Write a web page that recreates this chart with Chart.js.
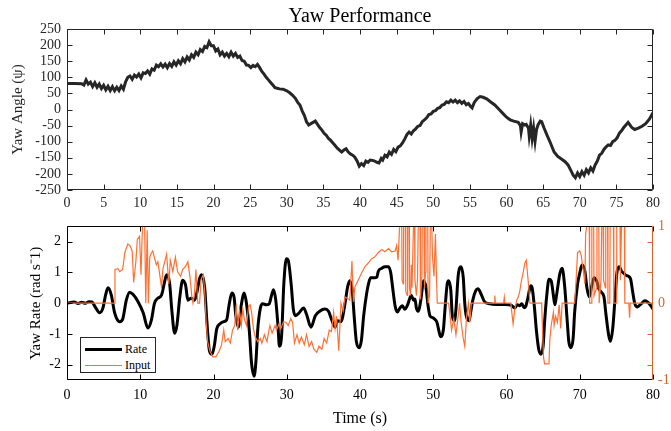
<!DOCTYPE html>
<html><head><meta charset="utf-8">
<script src="https://cdn.jsdelivr.net/npm/chart.js@4.4.1/dist/chart.umd.min.js"></script>
<style>
html,body{margin:0;padding:0;background:#fff;}
#wrap{position:relative;width:671px;height:431px;overflow:hidden;background:#fff;}
#wrap canvas{position:absolute;left:0;}
#c1{top:0;}
#c2{top:212px;}
#legend{position:absolute;left:80px;top:337px;width:74px;height:34px;border:1px solid #262626;background:#fff;font:12px "Liberation Serif","Times New Roman",serif;color:#000;z-index:2;}
#legend .sw{position:absolute;left:4px;width:37px;}
#legend .lab{position:absolute;left:44px;line-height:14px;}
</style>
</head><body>
<div id="wrap">
<canvas id="c1" width="671" height="212"></canvas>
<canvas id="c2" width="671" height="219"></canvas>
<div id="legend">
 <div class="sw" style="top:10px;height:3px;background:#000;"></div><div class="lab" style="top:4px;">Rate</div>
 <div class="sw" style="top:27px;height:1px;background:#ff7033;"></div><div class="lab" style="top:20px;">Input</div>
</div>
</div>
<script>
const chartTitle = 'Yaw Performance';
const angleAxisTitle = 'Yaw Angle (\u03c8)';
const rateAxisTitle = 'Yaw Rate (rad s\u207b1)';
const timeAxisTitle = 'Time (s)';

const angleTicks = [-250,-200,-150,-100,-50,0,50,100,150,200,250];
const rateTicks = [-2,-1,0,1,2];
const inputTicks = [-1,0,1];
const timeTicksTop = [0,5,10,15,20,25,30,35,40,45,50,55,60,65,70,75,80];
const timeTicksBottom = [0,10,20,30,40,50,60,70,80];

const yawTime = [
0,1,2,2.3,2.6,2.9,3.2,3.5,3.8,4.1,
4.4,4.7,5.0,5.3,5.6,5.9,6.2,6.5,6.8,7.1,
7.4,7.7,8.0,8.3,8.6,8.9,9.2,9.5,9.8,10.1,
10.4,10.7,11.0,11.3,11.6,11.9,12.2,12.5,12.8,13.1,
13.4,13.7,14.0,14.3,14.6,14.9,15.2,15.5,15.8,16.1,
16.4,16.7,17.0,17.3,17.6,17.9,18.2,18.5,18.8,19.1,
19.4,19.7,20.0,20.3,20.6,20.9,21.2,21.5,21.8,22.1,
22.4,22.7,23.0,23.3,23.6,23.9,24.2,24.5,24.8,25.1,
25.4,25.7,26.0,26.3,26.6,26.9,27.2,27.5,27.8,28.1,
28.4,28.7,29.0,29.5,30.0,30.4,30.8,31.2,31.5,31.8,
32.1,32.4,32.7,33.0,33.3,33.6,33.9,34.2,34.5,34.8,
35.1,35.4,35.7,36.0,36.3,36.6,36.9,37.2,37.5,37.8,
38.1,38.4,38.7,39.0,39.3,39.6,39.9,40.2,40.5,40.8,
41.1,41.4,41.7,42.0,42.3,42.6,42.9,43.1,43.4,43.7,
44.0,44.3,44.6,44.9,45.2,45.5,45.8,46.1,46.4,46.7,
47.0,47.3,47.6,47.9,48.2,48.5,48.8,49.1,49.4,49.7,
50.0,50.3,50.6,50.9,51.2,51.5,51.8,52.1,52.4,52.7,
53.0,53.3,53.6,53.9,54.2,54.5,54.8,55.1,55.3,55.6,
56.0,56.4,56.8,57.3,57.8,58.4,59.0,59.5,60.0,60.5,
61.0,61.6,61.9,62.0,62.2,62.5,62.7,63.0,63.1,63.3,
63.5,63.7,63.9,64.1,64.3,64.6,64.8,65.1,65.5,66.0,
66.5,67.0,67.5,68.0,68.4,68.8,69.1,69.4,69.7,70.0,
70.3,70.6,70.9,71.2,71.5,71.8,72.1,72.4,72.7,73.0,
73.3,73.6,73.9,74.2,74.5,74.8,75.1,75.4,75.7,76.0,
76.3,76.6,76.8,77.1,77.5,78.0,78.5,79.0,79.5,80.0];
const yawAngle = [
81,81,80,76,92,79,85,71,83,69,
79,65,75,61,72,59,71,58,69,59,
73,63,86,100,104,94,107,101,110,98,
114,112,120,110,126,122,138,133,142,132,
141,130,143,134,148,138,151,142,158,148,
163,154,170,162,178,170,186,180,196,192,
210,198,198,182,188,170,178,166,174,164,
178,166,174,162,166,152,150,138,137,130,
137,133,140,130,118,110,100,92,84,76,
68,66,64,63,58,52,44,34,22,14,
-4,-18,-38,-48,-44,-40,-36,-46,-56,-64,
-74,-80,-90,-96,-104,-112,-120,-126,-132,-126,
-122,-132,-138,-142,-148,-160,-176,-168,-174,-160,
-164,-157,-158,-160,-164,-166,-152,-157,-142,-147,
-132,-139,-124,-131,-117,-113,-104,-92,-78,-70,
-76,-66,-60,-52,-50,-38,-32,-26,-16,-14,
-6,-4,4,6,14,16,24,21,29,23,
29,21,27,19,25,15,19,9,5,22,
34,40,38,33,24,14,0,-12,-24,-32,
-36,-40,-50,-70,-44,-48,-46,-58,-82,-48,
-90,-58,-98,-62,-48,-36,-38,-56,-78,-104,
-132,-146,-154,-162,-172,-190,-204,-212,-197,-208,
-193,-204,-187,-197,-181,-191,-172,-160,-142,-136,
-124,-116,-110,-112,-100,-96,-88,-74,-66,-56,
-48,-40,-46,-56,-62,-58,-52,-44,-30,-10];

const rateTime = [
0,0.5,1,1.5,2,2.5,3,3.4,3.8,4.45,
4.9,5.3,5.6,6.05,6.5,7.2,7.6,8.1,8.55,9,
9.7,10.4,11.05,11.5,11.95,12.4,12.9,13.3,13.6,14,
14.3,14.7,15,15.4,15.8,16.2,16.5,16.95,17.4,17.7,
18.1,18.4,18.8,19.1,19.45,19.8,20.1,20.45,20.9,21.4,
21.8,22.1,22.5,22.8,23.05,23.4,23.8,24.2,24.5,24.9,
25.2,25.55,25.8,26.05,26.4,26.7,27.2,27.6,27.9,28.2,
28.5,28.8,29,29.3,29.6,29.95,30.2,30.6,30.9,31.2,
31.7,32.3,32.7,33.3,33.9,34.5,35.2,35.7,36.1,36.6,
36.95,37.4,37.95,38.3,38.6,38.95,39.2,39.5,39.9,40.2,
40.5,40.9,41.2,41.45,42,42.3,42.5,43,43.4,43.9,
44.2,44.45,44.8,45.1,45.45,45.8,46.1,46.45,46.8,47,
47.3,47.5,47.7,47.95,48.3,48.55,48.7,49,49.3,49.55,
49.9,50.2,50.5,50.8,51,51.4,51.6,51.9,52.1,52.4,
52.6,52.9,53.1,53.4,53.8,54.1,54.3,54.5,54.9,55.1,
55.4,55.8,56.1,56.6,57,57.7,58.6,59.8,60.7,61.1,
61.5,61.8,62.1,62.4,62.6,62.95,63.3,63.5,63.8,64.1,
64.4,64.7,65,65.2,65.5,65.8,66.1,66.4,66.6,66.8,
67.3,67.6,67.95,68.3,68.5,68.8,69.1,69.3,69.7,70,
70.3,70.7,71,71.3,71.6,71.95,72.3,72.6,72.95,73.3,
73.6,73.95,74.2,74.5,74.8,75.1,75.4,75.7,76,76.3,
76.6,76.95,77.2,77.5,77.8,78.1,78.4,78.9,79.2,79.5,
80];
const rateValue = [
0,0.02,0.04,-0.01,0.03,0,0.05,0.04,-0.1,-0.31,
-0.16,0.3,0.5,0.26,-0.31,-0.6,-0.52,0.1,0.36,0.29,
0.05,-0.31,-0.81,-0.57,0,0.16,0.26,0.67,0.93,0.67,
-0.2,-0.98,-0.73,0.2,0.75,0.57,0.1,0.16,0.1,0.31,
0.8,0.93,0.5,-0.6,-1.55,-1.66,-1.4,-0.83,-0.67,-0.6,
-0.54,-0.1,0.33,0.21,-0.41,-0.78,-0.05,0.33,0,-0.93,
-1.97,-2.38,-1.87,-0.83,-0.16,-0.02,-0.05,-0.02,0.23,0.44,
0.1,-0.73,-1.4,-1.04,0.62,1.45,1.4,0.62,-0.2,-0.41,
-0.31,-0.16,-0.36,-0.78,-0.41,-0.26,-0.19,-0.26,-0.52,-0.78,
-0.57,-0.6,-0.02,0.52,0.73,0.4,-0.41,-1.24,-1.45,-1.19,
-0.41,0.31,0.67,0.83,0.83,0.85,1.04,1.14,1.19,1.19,
0.98,0.52,-0.1,-0.29,-0.16,-0.08,-0.2,-0.08,0.16,0.26,
0.1,0.14,-0.16,-0.26,0.1,0.57,0.73,0.52,-0.1,-0.41,
-0.47,-0.52,-0.62,-0.93,-1.09,-0.83,-0.2,0.62,0.73,0.41,
-0.41,-0.57,-0.2,0.88,1.19,0.83,0,-0.41,-0.57,-0.31,
0.1,0.41,0.47,0.26,0.05,-0.02,-0.04,-0.04,-0.07,-0.16,
-0.05,-0.08,-0.02,-0.15,-0.12,0.21,0.57,0.5,-0.1,-0.93,
-1.5,-1.66,-1.4,-0.62,0.26,0.78,0.73,0.26,-0.05,0.21,
0.98,1.14,0.52,-0.62,-1.24,-1.45,-1.14,-0.31,0.62,0.98,
1.24,1.04,0.47,0.21,0.52,0.83,0.73,0.47,0.36,0.21,
-0.41,-1.04,-1.24,-0.83,0.1,1.04,1.19,1.04,0.98,0.91,
0.88,0.78,0.41,0,-0.12,-0.08,-0.02,0.08,0.05,-0.02,
-0.19];

const inputTime = [
0,6.5,6.55,6.95,7.2,7.6,7.9,8.3,8.6,8.9,
9.1,9.4,9.6,9.9,10.1,10.3,10.6,10.75,10.95,11.1,
11.3,11.5,11.7,12.2,12.4,12.6,12.9,13.1,13.45,13.6,
13.9,14.1,14.45,14.8,15.1,15.5,15.8,16.2,16.5,16.8,
17.05,17.2,17.4,17.6,17.85,18.1,18.3,18.6,18.8,19,
19.2,19.5,19.9,20.3,20.8,21.1,21.4,21.6,22,22.3,
22.6,22.9,23.1,23.3,23.55,23.8,24,24.2,24.5,24.8,
25,25.2,25.45,25.7,26.05,26.4,26.6,26.95,27.3,27.5,
27.7,28,28.4,28.6,28.95,29.2,29.55,29.9,30.2,30.55,
30.8,31.05,31.4,31.7,32,32.4,32.7,33.05,33.4,33.7,
34.1,34.4,34.8,35.1,35.45,35.8,36.1,36.4,36.6,36.8,
37.1,37.4,37.7,37.95,38.3,38.6,38.9,39.1,39.3,39.5,
39.8,40.2,40.7,41.1,41.6,42,42.5,43,43.4,43.9,
44.3,44.8,45,45.2,45.4,45.7,45.75,45.9,45.95,46.2,
46.25,46.45,46.5,46.7,46.75,46.9,47,47.1,47.3,47.45,
47.5,47.7,47.85,47.95,48.2,48.25,48.45,48.5,48.75,48.8,
48.95,49,49.25,49.3,49.5,49.6,49.8,49.9,50.1,50.3,
50.45,50.55,52.1,52.3,52.5,52.8,53.1,53.4,53.6,53.8,
54.1,54.3,54.55,54.8,55,55.2,58.3,58.4,58.5,59.6,
59.7,59.8,60.6,60.7,60.9,61.1,61.4,61.6,61.8,62,
62.3,62.5,62.7,62.9,63.05,63.2,64.8,64.9,65.05,65.2,
65.8,65.9,66.1,66.4,66.5,66.7,66.95,67.2,67.4,67.6,
69.3,69.45,69.7,70,70.2,70.45,70.7,70.8,70.95,71.3,
71.35,71.6,71.65,71.9,71.95,72.3,72.35,72.6,72.65,72.9,
73,73.2,73.25,73.5,73.55,73.8,73.85,74.1,74.15,74.6,
74.65,75,75.05,75.5,75.55,75.7,76.1,76.15,76.7,76.8,
76.9,80];
const inputValue = [
0,0,0.44,0.45,0.41,0.44,0.66,0.77,0.75,0.68,
0.27,0.54,0.83,0.87,0.37,1,1,0,0.95,0,
0.6,0.65,0.68,0.5,0.54,0.41,0.21,0.45,0.58,0.64,
0.25,0.56,0.41,0.6,0.41,0.35,0.44,0.48,0.54,0.33,
0.08,0,0.12,0.44,0,0,0.31,0.37,0.15,-0.25,
-0.5,-0.62,-0.7,-0.7,-0.62,-0.54,-0.35,-0.5,-0.46,-0.52,
-0.35,-0.29,-0.02,-0.35,-0.1,-0.29,-0.08,-0.2,-0.29,-0.04,
-0.02,-0.12,-0.33,-0.44,-0.5,-0.46,-0.52,-0.41,-0.5,-0.39,
-0.29,-0.39,-0.29,-0.35,-0.27,-0.33,-0.24,-0.25,-0.29,-0.2,
-0.25,-0.52,-0.41,-0.52,-0.44,-0.54,-0.41,-0.56,-0.5,-0.6,
-0.64,-0.56,-0.6,-0.46,-0.52,-0.35,-0.37,-0.12,-0.33,-0.17,
-0.62,0,-0.1,0.08,0.06,0.04,0.55,0.02,0.21,0.25,
0.31,0.39,0.48,0.52,0.58,0.6,0.66,0.7,0.67,0.71,
0.67,0.68,0.75,0.56,1,1,0.3,0.25,1,1,
0.15,0.1,1,1,0.2,0.1,0.5,0.2,1,1,
0.3,0.1,0.3,1,1,0.05,0.35,1,1,0.2,
0.4,1,1,0,0.1,1,1,0.6,0.35,0.9,
0.3,0,0,-0.17,-0.35,-0.2,-0.41,-0.17,0,-0.25,
-0.46,-0.56,-0.17,0,-0.25,0,0,0.1,0,0,
0.08,0,0,-0.1,-0.27,-0.1,0.04,0.08,0.15,0.27,
0.41,0.52,0.56,0.35,0.2,0,0,-0.29,-0.7,-0.79,
-0.79,-0.5,-0.29,-0.12,-0.29,-0.17,-0.25,-0.02,-0.33,0,
0,0.21,0.66,0.68,0.62,0.45,0.25,0.9,1,1,
0,0,1,1,0.1,0.2,1,1,0,0.3,
1,1,0.3,0.2,1,1,0,0,1,1,
0,0,1,1,0.3,1,1,0,0,-0.19,
0,0];

const SERIF = '"Liberation Serif","Times New Roman",serif';
const ORANGE_LINE = '#ff7033';
const ORANGE_AXIS = '#d9622b';
const DARK = '#262626';

function pts(ts, vs){ return ts.map((t,i)=>({x:t,y:vs[i]})); }
function fixTicks(arr){ return function(scale){ scale.ticks = arr.map(v=>({value:v})); }; }

function framePlugin(opts){
  return {id:'frame', afterDraw(chart){
    const ctx=chart.ctx, a=chart.chartArea, xs=chart.scales.x, ys=chart.scales.y;
    const L=Math.round(a.left)+0.5, R=Math.round(a.right)-0.5, T=Math.round(a.top)+0.5, B=Math.round(a.bottom)-0.5;
    const tl=5;
    ctx.save();
    ctx.lineWidth=1;
    ctx.strokeStyle=opts.axisColor;
    ctx.beginPath();
    xs.ticks.forEach(t=>{const p=Math.round(xs.getPixelForValue(t.value))+0.5;
      ctx.moveTo(p,B); ctx.lineTo(p,B-tl); ctx.moveTo(p,T); ctx.lineTo(p,T+tl);});
    ys.ticks.forEach(t=>{const p=Math.round(ys.getPixelForValue(t.value))+0.5;
      ctx.moveTo(L,p); ctx.lineTo(L+tl,p);
      if(!opts.rightColor){ctx.moveTo(R,p); ctx.lineTo(R-tl,p);} });
    ctx.moveTo(L,T); ctx.lineTo(R,T);
    ctx.moveTo(L,T); ctx.lineTo(L,B); ctx.lineTo(R,B);
    if(!opts.rightColor){ctx.moveTo(R,T); ctx.lineTo(R,B);}
    ctx.stroke();
    if(opts.rightColor){
      ctx.strokeStyle=opts.rightColor;
      ctx.beginPath();
      ctx.moveTo(R,T); ctx.lineTo(R,B);
      ys.ticks.forEach(t=>{const p=Math.round(ys.getPixelForValue(t.value))+0.5;
        ctx.moveTo(R,p); ctx.lineTo(R-tl,p);});
      ctx.stroke();
    }
    if(opts.title){
      ctx.fillStyle='#000';
      ctx.font='20px '+SERIF;
      ctx.textAlign='center'; ctx.textBaseline='middle';
      ctx.fillText(opts.title,(a.left+a.right)/2,17);
    }
    ctx.restore();
  }};
}

Chart.defaults.font.family = SERIF;
Chart.defaults.color = '#000';

new Chart(document.getElementById('c1'), {
  type:'line',
  data:{datasets:[{data:pts(yawTime,yawAngle),borderColor:DARK,borderWidth:3,pointRadius:0,tension:0,fill:false}]},
  options:{
    responsive:false, animation:false, devicePixelRatio:1,
    layout:{padding:{top:29,right:18,bottom:0,left:0}},
    plugins:{legend:{display:false},tooltip:{enabled:false}},
    scales:{
      x:{type:'linear',min:0,max:80,afterBuildTicks:fixTicks(timeTicksTop),afterFit(s){s.height=22;},
         grid:{display:false,drawTicks:false},border:{display:false},
         ticks:{font:{size:14},color:DARK,padding:5,maxRotation:0,autoSkip:false,callback:v=>String(v)}},
      y:{type:'linear',min:-250,max:250,afterBuildTicks:fixTicks(angleTicks),afterFit(s){s.width=67;},
         grid:{display:false,drawTicks:false},border:{display:false},
         ticks:{font:{size:14},color:DARK,padding:6,autoSkip:false,callback:v=>String(v)},
         title:{display:true,text:angleAxisTitle,font:{size:15},color:DARK,padding:{top:9,bottom:9}}}
    }
  },
  plugins:[framePlugin({axisColor:DARK,title:chartTitle})]
});

new Chart(document.getElementById('c2'), {
  type:'line',
  data:{datasets:[
    {label:'Input',data:pts(inputTime,inputValue),yAxisID:'y1',borderColor:ORANGE_LINE,borderWidth:1.2,pointRadius:0,tension:0,fill:false,order:0},
    {label:'Rate',data:pts(rateTime,rateValue),yAxisID:'y',borderColor:'#000',borderWidth:3,pointRadius:0,cubicInterpolationMode:'monotone',fill:false,order:1}
  ]},
  options:{
    responsive:false, animation:false, devicePixelRatio:1,
    layout:{padding:{top:10,right:0,bottom:0,left:0}},
    plugins:{legend:{display:false},tooltip:{enabled:false}},
    scales:{
      x:{type:'linear',min:0,max:80,afterBuildTicks:fixTicks(timeTicksBottom),afterFit(s){s.height=51;},
         grid:{display:false,drawTicks:false},border:{display:false},
         ticks:{font:{size:14},color:'#000',padding:7,maxRotation:0,autoSkip:false,callback:v=>String(v)},
         title:{display:true,text:timeAxisTitle,font:{size:16},color:'#000',padding:{top:3,bottom:3}}},
      y:{type:'linear',position:'left',min:-2.5,max:2.5,afterBuildTicks:fixTicks(rateTicks),afterFit(s){s.width=67;},
         grid:{display:false,drawTicks:false},border:{display:false},
         ticks:{font:{size:14},color:'#000',padding:6,autoSkip:false,callback:v=>String(v)},
         title:{display:true,text:rateAxisTitle,font:{size:15},color:'#000',padding:{top:27,bottom:27}}},
      y1:{type:'linear',position:'right',min:-1,max:1,afterBuildTicks:fixTicks(inputTicks),afterFit(s){s.width=18;},
         grid:{display:false,drawTicks:false},border:{display:false},
         ticks:{font:{size:14},color:ORANGE_AXIS,padding:5,autoSkip:false,callback:v=>String(v)}}
    }
  },
  plugins:[framePlugin({axisColor:'#000',rightColor:ORANGE_AXIS})]
});
</script>
</body></html>
